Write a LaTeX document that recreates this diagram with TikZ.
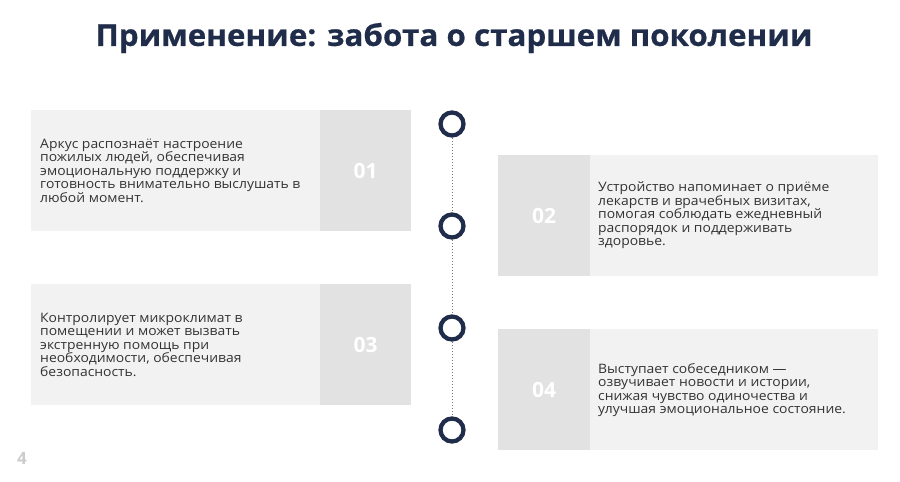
\documentclass[tikz,border=0pt]{standalone}
\usepackage{fontspec}
\setmainfont{Open Sans}
\newfontfamily\bodyfont[FakeStretch=1.07]{Open Sans}
\newfontfamily\titlefont[FakeStretch=1.045,FakeBold=0.6]{Open Sans}
\definecolor{navy}{HTML}{1F2D4A}
\definecolor{cardlight}{HTML}{F2F2F2}
\definecolor{carddark}{HTML}{E2E2E2}
\definecolor{bodytext}{HTML}{333333}
\definecolor{dotgray}{HTML}{777777}
\begin{document}
\begin{tikzpicture}[x=1pt,y=-1pt,
  lightbox/.style={fill=cardlight,draw=none,inner sep=0pt,anchor=north west,minimum height=121pt},
  darkbox/.style={fill=carddark,draw=none,inner sep=0pt,anchor=north west,minimum height=121pt,minimum width=91pt,
     font=\fontsize{21}{24}\selectfont\bfseries,text=white},
  bodytxt/.style={font=\bodyfont\fontsize{13}{13.5}\selectfont,text=bodytext,align=left,anchor=west,inner sep=0pt},
  ring/.style={circle,draw=navy,line width=4.3pt,minimum size=23pt,inner sep=0pt,fill=white},
  link/.style={dotted,draw=dotgray,line width=1pt}]
\useasboundingbox[fill=white] (0,0) rectangle (900,482);
\node[font=\titlefont\bfseries\fontsize{30}{36}\selectfont,text=navy] (title) at (454,38) {Применение: забота о старшем поколении};
% card 1
\node[lightbox,minimum width=289pt] (c1l) at (31,110) {};
\node[darkbox] (c1d) at (320,110) {01};
\node[bodytxt] (t1) at (40,170.5) {Аркус распознаёт настроение\\пожилых людей, обеспечивая\\эмоциональную поддержку и\\готовность внимательно выслушать в\\любой момент.};
% card 2
\node[darkbox,minimum width=92pt] (c2d) at (498,155) {02};
\node[lightbox,minimum width=288pt] (c2l) at (590,155) {};
\node[bodytxt] (t2) at (598,215.5) {Устройство напоминает о приёме\\лекарств и врачебных визитах,\\помогая соблюдать ежедневный\\распорядок и поддерживать\\здоровье.};
% card 3
\node[lightbox,minimum width=289pt] (c3l) at (31,284) {};
\node[darkbox] (c3d) at (320,284) {03};
\node[bodytxt] (t3) at (40,344.5) {Контролирует микроклимат в\\помещении и может вызвать\\экстренную помощь при\\необходимости, обеспечивая\\безопасность.};
% card 4
\node[darkbox,minimum width=92pt] (c4d) at (498,329) {04};
\node[lightbox,minimum width=288pt] (c4l) at (590,329) {};
\node[bodytxt] (t4) at (598,390) {Выступает собеседником —\\озвучивает новости и истории,\\снижая чувство одиночества и\\улучшая эмоциональное состояние.};
% timeline
\node[ring] (k1) at (452,124) {};
\node[ring] (k2) at (452,226) {};
\node[ring] (k3) at (452,328) {};
\node[ring] (k4) at (452,430) {};
\draw[link] (k1) -- (k2);
\draw[link] (k2) -- (k3);
\draw[link] (k3) -- (k4);
\node[font=\fontsize{17}{20}\selectfont\bfseries,text=black!20] (pg) at (22,458) {4};
\end{tikzpicture}
\end{document}
